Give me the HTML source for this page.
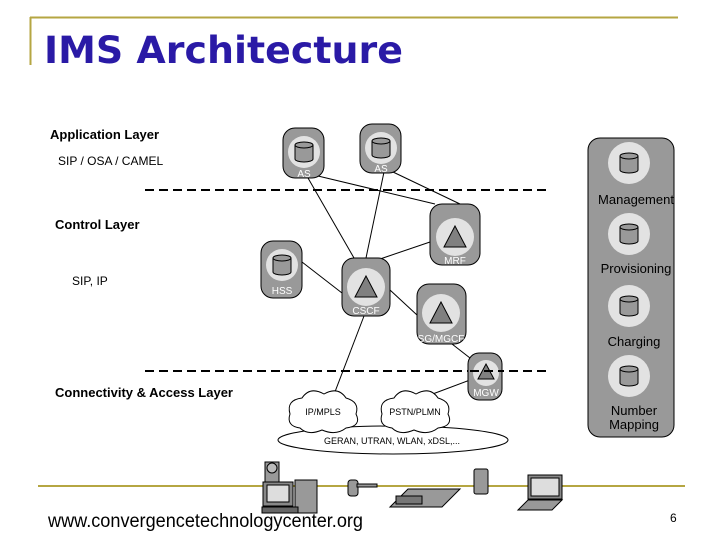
<!DOCTYPE html>
<html><head><style>
body{margin:0;background:#fff;width:720px;height:540px;overflow:hidden}
svg{display:block;font-family:"Liberation Sans",sans-serif}
</style></head><body>
<svg width="720" height="540" viewBox="0 0 720 540">
<defs>
<g id="cyl"><path d="M-9,-7 v14 a9,3 0 0 0 18,0 v-14" fill="#999" stroke="#000"/><ellipse cx="0" cy="-7" rx="9" ry="3" fill="#999" stroke="#000"/></g>
<g id="tri"><path d="M0,-11 L11,10 L-11,10Z" fill="#808080" stroke="#000"/></g>
</defs>
<line x1="30" y1="17.5" x2="678" y2="17.5" stroke="#b5a642" stroke-width="2"/>
<line x1="30.5" y1="17" x2="30.5" y2="65" stroke="#b5a642" stroke-width="2"/>
<text x="44" y="63" font-size="37" font-weight="bold" fill="#2a1aa6" font-family="DejaVu Sans,Liberation Sans,sans-serif" textLength="359" lengthAdjust="spacingAndGlyphs">IMS Architecture</text>

<g font-size="13" font-weight="bold" fill="#000">
<text x="50" y="139">Application Layer</text>
<text x="55" y="229">Control Layer</text>
<text x="55" y="397">Connectivity &amp; Access Layer</text>
</g>
<g font-size="12" fill="#000">
<text x="58" y="165">SIP / OSA  / CAMEL</text>
<text x="72" y="285">SIP, IP</text>
</g>

<g stroke="#000" stroke-width="2" stroke-dasharray="9,5">
<line x1="145" y1="190" x2="548" y2="190"/>
<line x1="145" y1="371" x2="548" y2="371"/>
</g>

<g stroke="#000" stroke-width="1" fill="none">
<line x1="308" y1="178" x2="354" y2="258"/>
<line x1="384" y1="172" x2="366" y2="258"/>
<line x1="318" y1="176" x2="435" y2="204"/>
<line x1="393" y1="172" x2="460" y2="204"/>
<line x1="430" y1="242" x2="380" y2="259"/>
<line x1="302" y1="262" x2="342" y2="293"/>
<line x1="390" y1="290" x2="417" y2="315"/>
<line x1="452" y1="344" x2="470" y2="358"/>
<line x1="364" y1="316" x2="333" y2="397"/>
<line x1="470" y1="380" x2="430" y2="395"/>
</g>

<g stroke="#000" fill="#999">
<rect x="283" y="128" width="41" height="50" rx="12"/>
<rect x="360" y="124" width="41" height="49" rx="12"/>
<rect x="430" y="204" width="50" height="61" rx="12"/>
<rect x="261" y="241" width="41" height="57" rx="12"/>
<rect x="342" y="258" width="48" height="58" rx="12"/>
<rect x="417" y="284" width="49" height="60" rx="12"/>
<rect x="468" y="353" width="34" height="47" rx="11"/>
<rect x="588" y="138" width="86" height="299" rx="12"/>
</g>
<g fill="#e2e2e2">
<circle cx="304" cy="152" r="16"/><circle cx="381" cy="148" r="16"/>
<circle cx="455" cy="237" r="19"/><circle cx="282" cy="265" r="16"/>
<circle cx="366" cy="287" r="19"/><circle cx="441" cy="313" r="19"/>
<circle cx="486" cy="373" r="13"/>
<circle cx="629" cy="163" r="21"/><circle cx="629" cy="234" r="21"/>
<circle cx="629" cy="306" r="21"/><circle cx="629" cy="376" r="21"/>
</g>
<use href="#cyl" x="304" y="152"/><use href="#cyl" x="381" y="148"/>
<use href="#cyl" x="282" y="265"/>
<use href="#cyl" x="629" y="163"/><use href="#cyl" x="629" y="234"/>
<use href="#cyl" x="629" y="306"/><use href="#cyl" x="629" y="376"/>
<use href="#tri" x="455" y="237"/><use href="#tri" x="366" y="287"/>
<use href="#tri" x="441" y="313"/>
<path d="M486,364 L494,379 L478,379Z" fill="#808080" stroke="#000"/>
<line x1="470" y1="371" x2="503" y2="371" stroke="#000" stroke-width="2" stroke-dasharray="9,5"/>
<g fill="#fff" font-size="10" text-anchor="middle">
<text x="304" y="177">AS</text><text x="381" y="172">AS</text>
<text x="455" y="264">MRF</text><text x="282" y="294">HSS</text>
<text x="366" y="314">CSCF</text><text x="441" y="342">SG/MGCF</text>
<text x="486" y="396">MGW</text>
</g>
<g font-size="13" text-anchor="middle" fill="#000">
<text x="636" y="204">Management</text>
<text x="636" y="273">Provisioning</text>
<text x="634" y="346">Charging</text>
<text x="634" y="415">Number</text><text x="634" y="429">Mapping</text>
</g>

<g fill="#fff" stroke="#000">
<ellipse cx="393" cy="440" rx="115" ry="14"/>
<path d="M300,428 q-14,-2 -10,-14 q-4,-14 12,-16 q8,-12 22,-4 q14,-8 22,4 q14,4 10,16 q6,12 -10,14 q-10,8 -24,2 q-14,6 -22,-2Z"/>
<path d="M392,428 q-14,-2 -10,-14 q-4,-14 12,-16 q8,-12 22,-4 q14,-8 22,4 q14,4 10,16 q6,12 -10,14 q-10,8 -24,2 q-14,6 -22,-2Z"/>
</g>
<g font-size="9" text-anchor="middle" fill="#000">
<text x="323" y="415">IP/MPLS</text><text x="415" y="415">PSTN/PLMN</text>
<text x="392" y="444">GERAN, UTRAN, WLAN, xDSL,...</text>
</g>

<line x1="38" y1="486" x2="685" y2="486" stroke="#b5a642" stroke-width="2"/>
<g stroke="#000" fill="#999">
<rect x="265" y="462" width="14" height="22"/><circle cx="272" cy="468" r="5" fill="#bbb"/>
<rect x="263" y="482" width="30" height="24" fill="#888"/><rect x="267" y="485" width="22" height="17" fill="#ddd"/>
<rect x="295" y="480" width="22" height="33"/>
<rect x="262" y="507" width="36" height="6" fill="#666"/>
<rect x="348" y="480" width="10" height="16" rx="3"/>
<rect x="357" y="484" width="20" height="3"/>
<path d="M390,507 l18,-18 h52 l-18,18Z" fill="#999"/><rect x="396" y="496" width="26" height="8" fill="#777"/>
<rect x="474" y="469" width="14" height="25" rx="2"/>
<rect x="528" y="475" width="34" height="24" fill="#888"/><rect x="531" y="478" width="28" height="18" fill="#ddd"/>
<path d="M518,510 l10,-10 h34 l-10,10Z" fill="#999"/>
</g>
<text x="48" y="527" font-size="19" fill="#000" textLength="315" lengthAdjust="spacingAndGlyphs">www.convergencetechnologycenter.org</text>
<text x="670" y="522" font-size="12" fill="#000">6</text>
</svg>
</body></html>
